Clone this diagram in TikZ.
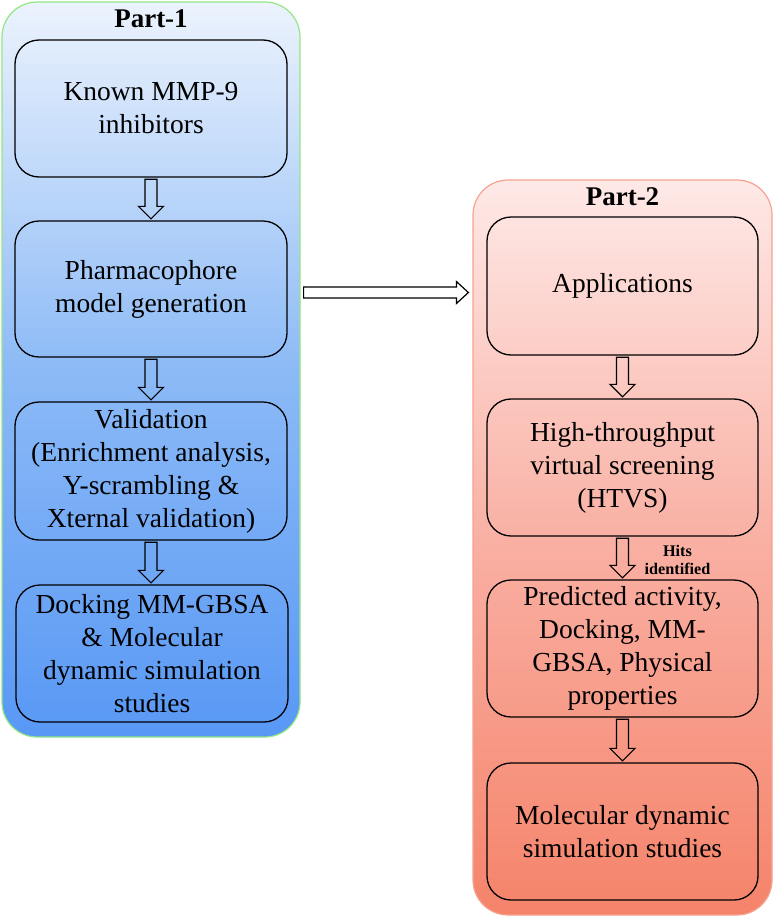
\documentclass[tikz,border=0pt]{standalone}
\usepackage{fontspec}
\setmainfont{Liberation Serif}
\usetikzlibrary{calc}
\definecolor{bluetop}{HTML}{ECF3FD}
\definecolor{bluemid}{HTML}{8CBAF6}
\definecolor{bluebot}{HTML}{5898F5}
\definecolor{greenline}{HTML}{92E684}
\definecolor{redtop}{HTML}{FEE9E7}
\definecolor{redmid}{HTML}{F9AFA2}
\definecolor{redbot}{HTML}{F5836A}
\definecolor{redline}{HTML}{F6A291}
\tikzset{
  panel/.style={rounded corners=35pt, line width=1.2pt, minimum width=298pt, minimum height=735pt, inner sep=0pt},
  stepbox/.style={draw=black, line width=1.3pt, rounded corners=24pt, minimum width=272pt, minimum height=137pt, inner sep=0pt, align=center, font=\fontsize{27.5}{33}\selectfont},
  title/.style={font=\bfseries\fontsize{27}{30}\selectfont, inner sep=0pt},
  smalllabel/.style={font=\bfseries\fontsize{16.2}{18.5}\selectfont, align=center, inner sep=0pt},
  fatarrow/.style={draw=black, line width=1.2pt, line join=miter, fill=none}
}
\newcommand\vfat[2]{\draw[fatarrow] let \p1=(#1.south), \p2=(#2.north) in
  (\x1-6pt,\y1-1.5pt) -- (\x1-6pt,\y2+14pt) -- (\x1-12.5pt,\y2+14pt) -- (\x1,\y2+1.5pt)
  -- (\x1+12.5pt,\y2+14pt) -- (\x1+6pt,\y2+14pt) -- (\x1+6pt,\y1-1.5pt) -- cycle;}
\begin{document}
\begin{tikzpicture}[x=1pt,y=1pt]
\useasboundingbox (0,0) rectangle (774,-918);
% panels
\node[panel, draw=greenline, top color=bluetop, bottom color=bluebot, middle color=bluemid] (p1) at (151,-369.5) {};
\node[panel, draw=redline, top color=redtop, bottom color=redbot, middle color=redmid, minimum width=299pt] (p2) at (622.5,-547.5) {};
\node[title] (t1) at (151,-19) {Part-1};
\node[title] (t2) at (622.5,-197) {Part-2};
% left boxes
\node[stepbox] (a1) at (151,-108.5) {Known MMP-9\\inhibitors};
\node[stepbox, minimum height=136pt] (a2) at (151,-289) {Pharmacophore\\model generation};
\node[stepbox, minimum height=138pt] (a3) at (151,-471) {Validation\\(Enrichment analysis,\\Y-scrambling \&\\Xternal validation)};
\node[stepbox] (a4) at (152,-653.5) {Docking MM-GBSA\\\& Molecular\\dynamic simulation\\studies};
% right boxes
\node[stepbox, minimum width=271pt, minimum height=138pt] (b1) at (622.5,-286) {Applications};
\node[stepbox, minimum width=271pt] (b2) at (622.5,-467.5) {High-throughput\\virtual screening\\(HTVS)};
\node[stepbox, minimum width=271pt] (b3) at (622.5,-648.5) {Predicted activity,\\Docking, MM-\\GBSA, Physical\\properties};
\node[stepbox, minimum width=271pt] (b4) at (622.5,-831.5) {Molecular dynamic\\simulation studies};
\node[smalllabel] (hits) at (677.5,-560) {Hits\\identified};
% vertical arrows
\vfat{a1}{a2}
\vfat{a2}{a3}
\vfat{a3}{a4}
\vfat{b1}{b2}
\vfat{b2}{b3}
\vfat{b3}{b4}
% horizontal arrow
\draw[fatarrow] let \p1=(p1.east), \p2=(p2.west), \p3=(a2.center) in
  (\x1+3pt,\y3-9pt) -- (\x2-16pt,\y3-9pt) -- (\x2-16pt,\y3-14.5pt) -- (\x2-4pt,\y3-3.5pt)
  -- (\x2-16pt,\y3+7.5pt) -- (\x2-16pt,\y3+2pt) -- (\x1+3pt,\y3+2pt) -- cycle;
\end{tikzpicture}
\end{document}
